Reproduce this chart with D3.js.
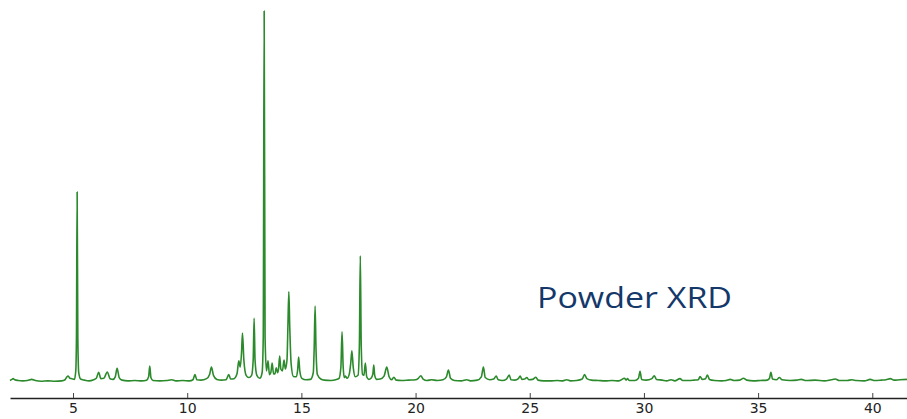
<!DOCTYPE html>
<html>
<head>
<meta charset="utf-8">
<script src="https://cdn.jsdelivr.net/npm/d3@7"></script>
<style>
  html, body { margin: 0; padding: 0; background: #fff; }
  svg { display: block; }
</style>
</head>
<body>
<svg id="chart" width="907" height="419"></svg>
<script>
// 2-theta (degrees) values of the diffractogram trace
const twoTheta = [2.24,2.32,2.38,2.45,2.6,2.8,3.0,3.19,3.35,3.6,3.9,4.2,4.5,4.65,4.72,4.79,4.86,4.95,5.06,
5.12,5.15,5.18,5.21,5.25,5.33,5.5,5.7,5.9,6.02,6.12,6.22,6.35,6.5,6.62,6.75,6.85,6.93,7.02,7.15,7.4,7.7,8.0,8.22,8.31,8.36,8.41,8.5,8.8,9.1,9.32,9.5,9.8,10.1,10.25,10.34,10.42,10.6,10.85,10.98,11.06,11.15,11.3,11.5,11.7,11.82,11.9,12.05,12.18,12.26,12.32,12.38,12.42,12.48,12.58,12.7,12.82,12.89,12.93,12.97,13.05,13.18,13.28,13.33,13.37,13.41,13.47,13.54,13.6,13.66,13.72,13.78,13.84,13.9,13.96,14.0,14.05,14.1,14.17,14.24,14.3,14.37,14.41,14.45,14.49,14.55,14.65,14.78,14.84,14.88,14.93,15.02,15.2,15.4,15.52,15.56,15.6,15.64,15.7,15.85,16.0,16.3,16.5,16.65,16.73,16.78,16.83,16.88,16.93,17.0,17.1,17.16,17.21,17.27,17.36,17.48,17.54,17.58,17.62,17.68,17.74,17.8,17.86,17.95,18.05,18.13,18.17,18.21,18.3,18.45,18.62,18.74,18.84,18.95,19.05,19.15,19.4,19.7,20.0,20.12,20.23,20.33,20.5,20.7,20.95,21.2,21.35,21.44,21.53,21.7,22.0,22.24,22.4,22.7,22.88,22.97,23.05,23.25,23.42,23.53,23.62,23.8,23.98,24.1,24.18,24.35,24.5,24.58,24.66,24.78,24.87,24.96,25.12,25.27,25.36,25.6,25.9,26.2,26.45,26.62,26.78,27.05,27.3,27.4,27.5,27.7,28.0,28.3,28.6,28.9,29.15,29.22,29.28,29.36,29.6,29.76,29.83,29.9,30.1,30.35,30.45,30.55,30.8,31.0,31.19,31.35,31.58,31.7,31.95,32.2,32.38,32.46,32.55,32.7,32.78,32.87,33.1,33.4,33.6,33.78,33.95,34.2,34.36,34.5,34.8,35.1,35.4,35.5,35.56,35.63,35.8,35.93,36.05,36.4,36.7,36.89,37.1,37.5,37.9,38.2,38.38,38.55,38.9,39.11,39.3,39.65,39.91,40.1,40.4,40.6,40.79,40.95,41.2,41.52];

// Intensity (relative, strongest reflection = 1000) at each 2-theta value
const intensity = [4,7,9,6,4,3,4,7,4,2,3,2,3,6,13,16,10,9,7,
30,120,512,120,25,8,5,3,6,10,26,9,10,27,9,7,14,37,12,5,3,4,3,5,14,43,12,4,3,4,6,3,4,3,6,20,6,5,9,20,40,18,7,5,6,20,8,9,22,57,40,80,132,60,18,12,18,60,172,60,18,10,25,120,1000,120,30,57,20,25,51,22,22,38,25,35,70,35,30,59,35,60,150,243,150,50,15,14,35,67,30,10,6,7,25,90,205,90,20,8,5,4,6,10,40,135,40,12,16,10,22,50,84,40,14,18,100,340,100,20,18,51,14,7,10,22,46,18,7,8,16,40,14,6,13,5,4,5,6,10,17,8,4,6,4,6,14,32,10,4,3,6,3,5,14,40,12,6,8,16,6,4,8,19,6,5,9,16,7,8,12,6,7,13,5,3,3,4,3,6,3,4,8,20,9,5,4,3,4,3,10,5,9,4,4,10,29,7,5,9,17,7,5,3,6,3,9,4,4,5,6,15,7,9,19,7,4,3,4,7,4,5,10,5,3,4,5,10,26,8,6,12,6,4,5,7,4,5,3,6,8,4,4,6,4,3,7,4,5,6,9,5,6,7];

const tickValues = [5, 10, 15, 20, 25, 30, 35, 40];
const tickLabels = ["5", "10", "15", "20", "25", "30", "35", "40"];
const annotation = "Powder XRD";

const data = twoTheta.map((t, i) => ({ t, v: intensity[i] }));

const svg = d3.select("#chart");

const x = d3.scaleLinear().domain([2.24, 41.52]).range([10, 907]);
const y = d3.scaleLinear().domain([0, 1000]).range([382, 11]);

// trace
const line = d3.line()
  .x(d => x(d.t))
  .y(d => y(d.v))
  .curve(d3.curveMonotoneX);

svg.append("path")
  .datum(data)
  .attr("fill", "none")
  .attr("stroke", "#2b8a2b")
  .attr("stroke-width", 1.6)
  .attr("stroke-linejoin", "round")
  .attr("d", line);

// x axis
const axis = d3.axisBottom(x)
  .tickValues(tickValues)
  .tickFormat((d, i) => tickLabels[i])
  .tickSizeInner(-5)
  .tickSizeOuter(0)
  .tickPadding(5);

const g = svg.append("g")
  .attr("transform", "translate(0,398)")
  .call(axis);

g.select(".domain").attr("stroke", "#222").attr("stroke-width", 1.3);
g.selectAll(".tick line").attr("stroke", "#444").attr("stroke-width", 1);
g.selectAll(".tick text")
  .attr("fill", "#222")
  .style("font-family", "'DejaVu Sans', sans-serif")
  .style("font-size", "14px");

// annotation
svg.append("text")
  .attr("x", 537)
  .attr("y", 307.7)
  .attr("fill", "#15386a")
  .attr("textLength", 195)
  .attr("lengthAdjust", "spacingAndGlyphs")
  .style("font-family", "'Open Sans', sans-serif")
  .style("font-size", "29px")
  .text(annotation);
</script>
</body>
</html>
